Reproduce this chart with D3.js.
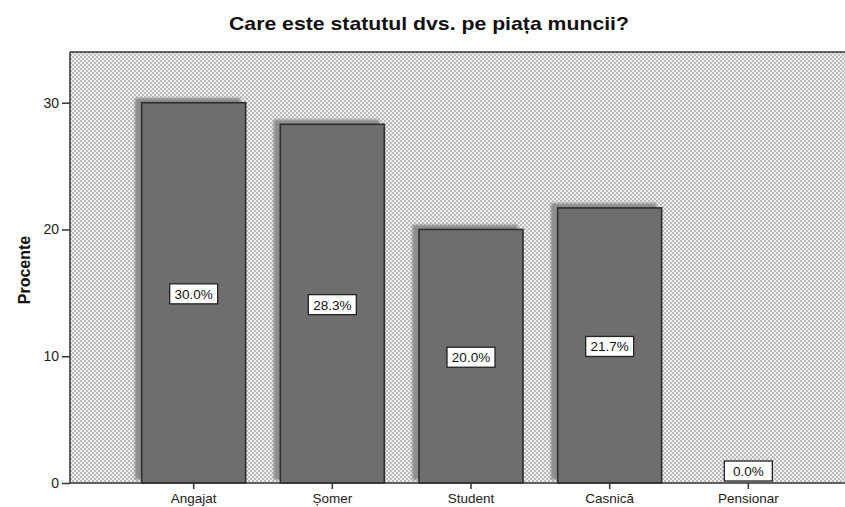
<!DOCTYPE html>
<html><head><meta charset="utf-8">
<script src="https://cdn.jsdelivr.net/npm/d3@7"></script>
<style>body{margin:0;background:#fff}svg{display:block}</style>
</head><body>
<svg id="c" width="845" height="507"></svg>
<script>
const categories = ["Angajat", "Șomer", "Student", "Casnică", "Pensionar"];
const values = [30.0, 28.3, 20.0, 21.7, 0.0];
const yTicks = [0, 10, 20, 30];
const title = "Care este statutul dvs. pe piața muncii?";
const yTitle = "Procente";

const FONT = "Arial, 'Liberation Sans', sans-serif";
const svg = d3.select("#c");
const plot = {left: 70, top: 52, right: 845, bottom: 483};

const defs = svg.append("defs");
const pat = defs.append("pattern").attr("id","dots").attr("patternUnits","userSpaceOnUse")
  .attr("width",4).attr("height",4);
pat.append("rect").attr("width",4).attr("height",4).attr("fill","#ededed");
pat.append("rect").attr("x",0).attr("y",0).attr("width",2).attr("height",2).attr("fill","#bdbdbd");
pat.append("rect").attr("x",2).attr("y",2).attr("width",2).attr("height",2).attr("fill","#bdbdbd");
defs.append("filter").attr("id","blur").attr("x","-10%").attr("y","-10%").attr("width","120%").attr("height","120%")
  .append("feGaussianBlur").attr("stdDeviation",1.2);

const x = d3.scaleBand().domain(categories).range([107, 835]).paddingInner(0.25).paddingOuter(0.25);
const y = d3.scaleLinear().domain([0, 34]).range([plot.bottom, plot.top]);

svg.append("rect").attr("x",plot.left).attr("y",plot.top)
  .attr("width",plot.right-plot.left).attr("height",plot.bottom-plot.top).attr("fill","url(#dots)");

// shadows
svg.append("g").selectAll("rect").data(values).join("rect")
  .attr("x",(d,i)=>x(categories[i])-6)
  .attr("y",d=>y(d)-4)
  .attr("width",x.bandwidth())
  .attr("height",d=>y(0)-y(d))
  .attr("fill","#8e8e8e").attr("stroke","#8e8e8e").attr("stroke-width",1.5)
  .attr("filter","url(#blur)");

// bars
svg.append("g").selectAll("rect").data(values).join("rect")
  .attr("x",(d,i)=>x(categories[i]))
  .attr("y",d=>y(d))
  .attr("width",x.bandwidth())
  .attr("height",d=>y(0)-y(d))
  .attr("fill","#6e6e6e").attr("stroke","#2e2e2e").attr("stroke-width",1.6);

// top border
svg.append("line").attr("x1",plot.left).attr("x2",plot.right).attr("y1",plot.top).attr("y2",plot.top)
  .attr("stroke","#333").attr("stroke-width",1.5);

// y axis
const yAxis = svg.append("g").attr("transform",`translate(${plot.left},0)`)
  .call(d3.axisLeft(y).tickValues(yTicks).tickSize(8).tickPadding(3).tickFormat(d3.format("d")));
yAxis.select(".domain").attr("stroke","#333").attr("stroke-width",1.5).attr("d",`M0,${plot.top}V${plot.bottom}`);
yAxis.selectAll(".tick line").attr("stroke","#333").attr("stroke-width",1.5);
yAxis.selectAll("text").attr("font-family",FONT).attr("font-size",14).attr("fill","#222");

// x axis
const xAxis = svg.append("g").attr("transform",`translate(0,${plot.bottom})`)
  .call(d3.axisBottom(x).tickSize(6).tickPadding(4));
xAxis.select(".domain").attr("stroke","#333").attr("stroke-width",1.5).attr("d",`M${plot.left},0H${plot.right}`);
xAxis.selectAll(".tick line").attr("stroke","#333").attr("stroke-width",1.5);
xAxis.selectAll("text").attr("font-family",FONT).attr("font-size",13.5).attr("fill","#222");

// value labels
const lab = svg.append("g").selectAll("g").data(values).join("g")
  .attr("transform",(d,i)=>`translate(${x(categories[i])+x.bandwidth()/2},${Math.min(y(d/2)+1, y(0)-12)})`);
lab.append("rect").attr("x",-24).attr("y",-10).attr("width",48).attr("height",20)
  .attr("fill","#fff").attr("stroke","#222").attr("stroke-width",1.3);
lab.append("text").attr("text-anchor","middle").attr("dy","0.36em")
  .attr("font-family",FONT).attr("font-size",13.5).attr("fill","#111")
  .text(d=>d3.format(".1f")(d)+"%");

// titles
svg.append("text").attr("x",429).attr("y",30).attr("text-anchor","middle")
  .attr("font-family",FONT).attr("font-weight","bold").attr("font-size",18.5)
  .attr("textLength",400).attr("lengthAdjust","spacingAndGlyphs")
  .attr("fill","#111").text(title);
svg.append("text").attr("transform","translate(30,270) rotate(-90)").attr("text-anchor","middle")
  .attr("font-family",FONT).attr("font-weight","bold").attr("font-size",16)
  .attr("fill","#111").text(yTitle);
</script>
</body></html>
